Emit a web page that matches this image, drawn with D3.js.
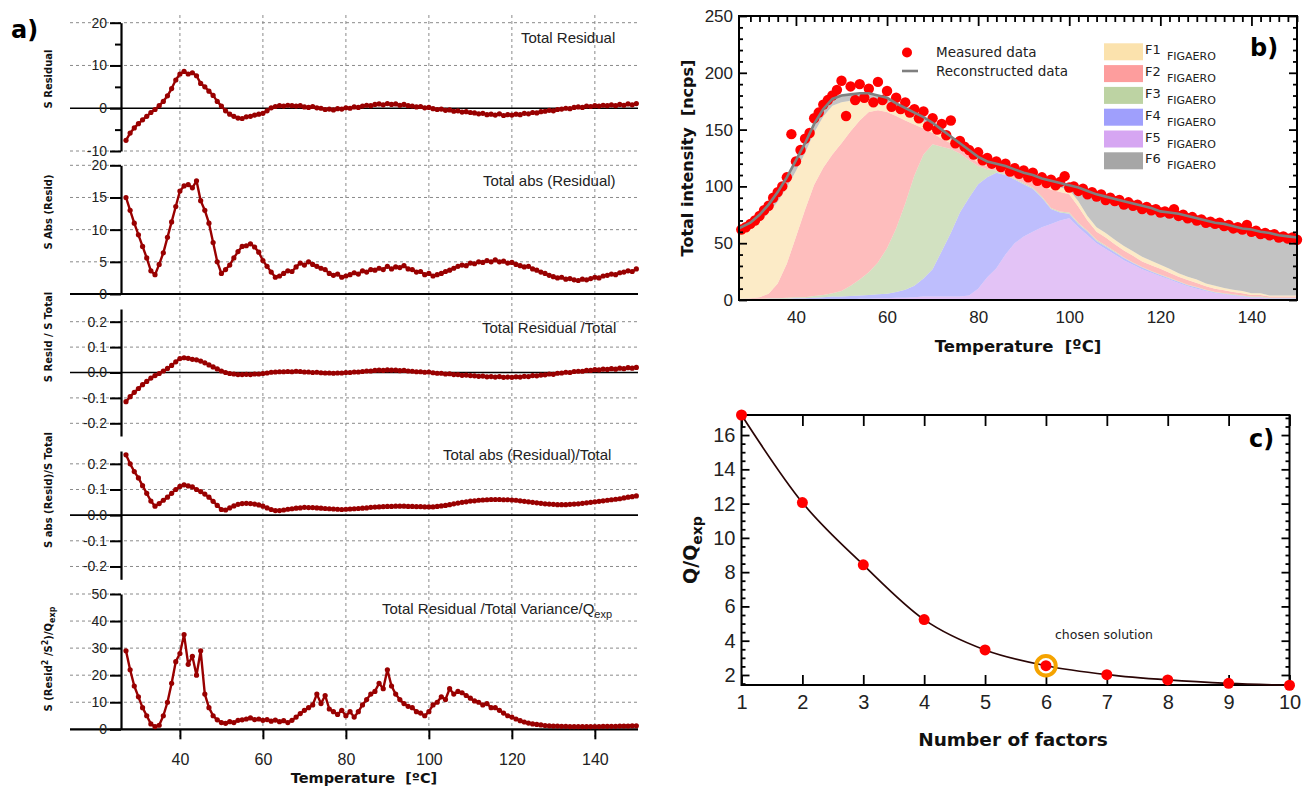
<!DOCTYPE html>
<html>
<head>
<meta charset="utf-8">
<script src="https://cdnjs.cloudflare.com/ajax/libs/d3/7.8.5/d3.min.js"></script>
<style>
  body { margin: 0; background: #fff; }
  svg { display: block; }
  text { white-space: pre; }
  .tick text { fill: #222; }
</style>
</head>
<body>
<svg id="chart" width="1303" height="789"></svg>
<script>
// ---------------- data ----------------
// temperature grid of the residual series and of the measured thermogram (degC)
var temps = [27,28,29,30,31,32,33,34,35,36, 37,38,39,40,41,42,43,44,45,46,
  47,48,49,50,51,52,53,54,55,56, 57,58,59,60,61,62,63,64,65,66,
  67,68,69,70,71,72,73,74,75,76, 77,78,79,80,81,82,83,84,85,86,
  87,88,89,90,91,92,93,94,95,96, 97,98,99,100,101,102,103,104,105,106,
  107,108,109,110,111,112,113,114,115,116, 117,118,119,120,121,122,123,124,125,126,
  127,128,129,130,131,132,133,134,135,136, 137,138,139,140,141,142,143,144,145,146,
  147,148,149,150];

var sResidual = [-7.5,-5.8,-4.6,-3.6,-2.7,-1.9,-1.0,-0.3,0.6,1.6, 2.9,4.6,6.6,8.0,8.6,8.0,8.3,7.6,5.8,5.0,
  4.0,3.0,1.6,0.5,-0.6,-1.4,-1.9,-2.3,-2.4,-2.0, -1.9,-1.6,-1.4,-1.2,-0.6,0.1,0.4,0.6,0.5,0.7,
  0.6,0.5,0.6,0.3,0.2,0.4,0.1,0.0,-0.3,-0.2, -0.4,-0.1,-0.2,0.1,0.0,0.3,0.2,0.5,0.7,0.6,
  0.9,1.0,0.8,1.1,0.9,1.0,0.7,0.9,0.6,0.5, 0.3,0.4,0.1,0.2,-0.1,-0.3,-0.2,-0.5,-0.4,-0.7,
  -0.6,-0.9,-0.8,-1.0,-1.1,-1.3,-1.2,-1.5,-1.4,-1.6, -1.3,-1.7,-1.5,-1.6,-1.4,-1.5,-1.2,-1.3,-1.0,-1.1,
  -0.8,-0.7,-0.5,-0.6,-0.3,-0.2,0.0,-0.1,0.2,0.3, 0.2,0.5,0.4,0.6,0.5,0.7,0.6,0.8,0.6,0.9,
  0.7,1.0,0.8,1.1];

var sAbsResid = [15,13,11,9.2,7.4,5.6,3.6,3.0,4.6,6.4, 8.8,11.2,13.6,16,16.8,17,16.5,17.6,14.5,13,
  11,8,5,3.2,3.8,4.5,5.6,6.6,7.4,7.5, 7.8,7.3,6.5,5.2,4.3,3.4,2.6,2.8,3.2,3.6,
  3.5,4.2,4.8,4.5,5.0,4.6,4.3,4.0,3.8,3.2, 2.9,3.1,2.6,2.8,3.0,3.3,3.1,3.6,3.4,3.8,
  3.7,4.0,3.8,4.3,3.9,4.2,4.1,4.4,3.9,3.8, 3.4,3.5,3.0,3.2,2.8,3.0,3.2,3.5,3.7,4.0,
  4.3,4.5,4.4,4.8,4.7,5.0,4.9,5.2,5.0,5.3, 5.0,5.1,4.8,4.9,4.6,4.4,4.2,4.3,3.9,3.7,
  3.4,3.2,2.9,2.7,2.5,2.6,2.3,2.4,2.2,2.1, 2.3,2.2,2.4,2.6,2.5,2.8,2.9,3.1,3.0,3.3,
  3.4,3.6,3.5,3.9];

var sResidTotal = [-0.115,-0.095,-0.078,-0.063,-0.048,-0.035,-0.022,-0.012,-0.004,0.006,
  0.016,0.028,0.042,0.055,0.058,0.056,0.052,0.05,0.045,0.038,
  0.03,0.022,0.014,0.006,0.0,-0.004,-0.006,-0.008,-0.008,-0.007,
  -0.008,-0.006,-0.006,-0.004,-0.002,0.001,0.002,0.003,0.003,0.004,
  0.003,0.005,0.004,0.002,0.002,0.0,0.001,-0.001,-0.002,-0.002,
  -0.003,-0.002,-0.002,0.0,0.0,0.002,0.002,0.004,0.006,0.006,
  0.008,0.009,0.008,0.01,0.009,0.009,0.007,0.008,0.006,0.005,
  0.003,0.003,0.001,0.002,-0.001,-0.003,-0.003,-0.006,-0.005,-0.008,
  -0.008,-0.011,-0.01,-0.012,-0.013,-0.015,-0.014,-0.017,-0.016,-0.018,
  -0.016,-0.019,-0.018,-0.019,-0.017,-0.018,-0.015,-0.016,-0.012,-0.013,
  -0.01,-0.009,-0.006,-0.007,-0.003,-0.002,0.001,0.0,0.004,0.005,
  0.005,0.008,0.008,0.011,0.01,0.013,0.012,0.015,0.013,0.017,
  0.015,0.019,0.017,0.02];

var sAbsTotal = [0.235,0.2,0.17,0.145,0.115,0.085,0.055,0.035,0.045,0.058,
  0.07,0.085,0.1,0.112,0.118,0.114,0.11,0.1,0.092,0.082,
  0.07,0.054,0.038,0.022,0.02,0.028,0.036,0.042,0.045,0.046,
  0.045,0.043,0.04,0.035,0.028,0.022,0.018,0.018,0.02,0.023,
  0.025,0.027,0.028,0.03,0.029,0.029,0.028,0.027,0.026,0.025,
  0.024,0.023,0.022,0.023,0.024,0.025,0.026,0.027,0.028,0.03,
  0.031,0.032,0.033,0.034,0.034,0.035,0.035,0.035,0.034,0.034,
  0.033,0.033,0.032,0.032,0.032,0.034,0.036,0.038,0.041,0.044,
  0.047,0.05,0.052,0.055,0.056,0.058,0.059,0.06,0.061,0.061,
  0.061,0.06,0.06,0.059,0.058,0.056,0.054,0.052,0.05,0.048,
  0.046,0.044,0.043,0.042,0.041,0.041,0.041,0.042,0.043,0.044,
  0.046,0.048,0.05,0.052,0.054,0.056,0.058,0.06,0.062,0.064,
  0.067,0.07,0.072,0.075];

var sVariance = [29,22,16,12,8,5,2,1,1.5,5, 10,17,25,28,35,24,27,20,29,13,
  8,5,3.5,2.5,2.2,2.8,2.5,3.3,3.5,3.8, 4.2,3.6,3.8,3.3,3.6,3.0,3.4,2.8,3.2,2.5,
  3.3,4.5,5.8,7,8,9,13,9.5,12.5,7.5, 6.5,5.5,7,5,6.5,4.5,6.5,9,11,13,
  14,17,15,22,16,13,11,9.5,8.5,8, 6.5,6,5,6.5,9,10,12,11,15,13,
  14,13.5,12.5,11.5,10.5,10,9,9.5,8,8, 7,6,5,4.5,3.8,3.2,2.7,2.3,2,1.8,
  1.6,1.4,1.3,1.2,1.2,1.1,1.1,1.0,1.0,1.0, 1.0,1.0,1.0,1.0,1.0,1.1,1.1,1.1,1.1,1.2,
  1.2,1.2,1.3,1.3];

// measured total signal (ncps), same temperature grid
var measured = [60,62,64,67,70,74,79,83,90,95, 100,108,146,122,132,142,147,160,165,172,
  176,180,185,193,162,188,176,190,178,186, 174,192,176,184,170,178,168,174,165,168,
  160,166,153,160,150,155,145,158,138,140, 135,132,128,130,123,125,120,122,117,120,
  113,116,111,114,108,112,105,108,103,106, 101,104,109,99,100,96,98,93,95,91,
  93,88,90,87,88,84,86,83,84,80, 82,79,80,77,78,76,80,74,75,72,
  73,70,71,68,69,67,68,65,66,63, 64,62,66,60,61,58,59,57,58,55,
  56,54,55,53];

// factor contributions (ncps)
var factorTemps = [27.5,30,32,34,36,38,40,42,44,46,48,50,52,54,56,58,60,62,64,66,68,70,72,74,76,78,80,
  82,84,86,88,90,92,94,96,98,100,102,104,106,108,110,112,114,116,118,120,122,124,126,128,130,
  132,134,136,138,140,142,144,146,148,150];
var f1 = [57,61,66,71,72,67,58,50,46,45,43,36,27,19,12,9,8,7,7,6,6,5,4,3,2,2,2,
  1,1,1,1,1,2,3,4,4,4,5,4,4,4,4,4,4,4,4,3.5,3.5,3,3,3,2.5,
  2.5,2,2,2,1.5,1.5,1,1,1,1];
var f2 = [0,0.5,1.5,4,13,30,53,77,98,112,122,130,136,140,141,134,120,99,73,45,23,10,7,5,4,4,3,
  3,2,3,4,4,6,10,16,17,16,14,9,7,7,6,6,6,5,5,5,4.5,4,4,3.5,3,
  3,2.5,2,2,1.5,1.5,1,1,1,1];
var f3 = [0.5,0.5,0.5,0.5,0.5,1,1,1,1.5,2,3,5,9,14,20,28,40,56,76,97,109,110,92,74,52,33,16,
  7,2,1,1,1,1,1,1,1,1,1,1,1,1,1,0.5,0.5,0.5,0.5,0.5,0.5,0.5,0.5,0.5,0.5,
  0.5,0.5,0.5,0.5,0.5,0.5,0.5,0.5,0.5,0.5];
var f4 = [0.5,0.5,0.5,1,1,1,1.5,1.5,2,2,2.5,2.5,3,3,3.5,3.5,4,5,7,10,16,24,40,56,74,86,92,
  88,84,70,56,46,38,26,13,7,4,3,3,2,2,2,2,1.5,1.5,1,1,1,1,1,1,0.5,
  0.5,0.5,0.5,0.5,0.5,0.5,0.5,0.5,0.5,0.5];
var f5 = [0,0,0,0,0,0,0,0,0,0.5,0.5,0.5,0.5,1,1,1.5,1.5,2,2,2.5,3,3,3,3,3,4,10,
  20,28,40,50,56,60,64,67,70,72,64,57,50,45,40,35,31,27,24,21,18,15,12,10,8,
  6,5,4,3,2,2,1,1,1,1];
var f6 = [5,5.5,6.5,7.5,8.5,9,9.5,8.5,7.5,6.5,6,6,5.5,5,4.5,4,4.5,4,4,4.5,4,4,4,3,3,3,3,
  3,3,3,3,4,3,3,4,4,4,12,22,29,32,36,39.5,42,45,46.5,47,49.5,52.5,53.5,54,55.5,
  55.5,56.5,56,55,56,54,55,53,52,51];
var factorNames = ["F1", "F2", "F3", "F4", "F5", "F6"];
var factorColors = ["#fbe2ad", "#fd9d9d", "#bdd3a3", "#9f9ffc", "#d6a6f2", "#a6a6a6"];

// Q/Qexp against number of factors
var nFactors = [1, 2, 3, 4, 5, 6, 7, 8, 9, 10];
var qRatio = [17.17, 12.06, 8.43, 5.23, 3.46, 2.54, 2.02, 1.71, 1.51, 1.40];
var chosenFactors = 6;

var tempTicks = [40, 60, 80, 100, 120, 140];

// ---------------- drawing ----------------
var svg = d3.select("#chart");
var tickFont = "Liberation Sans, Arial, sans-serif";
var labelFont = "DejaVu Sans, Verdana, sans-serif";
var darkRed = "#990000";

function fmtInt(d) { return d.toFixed(0); }
function fmt1(d) { return d.toFixed(1); }

// ===== panel a =====
var xA = d3.scaleLinear().domain([25.8, 150.4]).range([121, 638]);
var gridL = 70, gridR = 638;

var panelsA = [
  {values: sResidual, domain: [-10, 20], range: [151, 22.7], ticks: [-10, 0, 10, 20], minor: [-5, 5, 15],
   fmt: fmtInt, labelY: 79, note: "Total Residual", noteX: 521, noteY: 43},
  {values: sAbsResid, domain: [0, 20], range: [294, 165.3], ticks: [0, 5, 10, 15, 20], minor: [],
   fmt: fmtInt, labelY: 212, note: "Total abs (Residual)", noteX: 483, noteY: 186},
  {values: sResidTotal, domain: [-0.25, 0.25], range: [436, 309], ticks: [-0.2, -0.1, 0, 0.1, 0.2], minor: [],
   fmt: fmt1, labelY: 337, note: "Total Residual /Total", noteX: 482, noteY: 333},
  {values: sAbsTotal, domain: [-0.25, 0.25], range: [579.3, 451], ticks: [-0.2, -0.1, 0, 0.1, 0.2], minor: [],
   fmt: fmt1, labelY: 490, note: "Total abs (Residual)/Total", noteX: 443, noteY: 460},
  {values: sVariance, domain: [0, 50], range: [729.3, 594], ticks: [0, 10, 20, 30, 40, 50], minor: [],
   fmt: fmtInt, labelY: 659, note: "Total Residual /Total Variance/Q", noteX: 382, noteY: 614, noteSub: "exp"}
];
var labelsA = [["S Residual"], ["S Abs (Resid)"], ["S Resid / S Total"], ["S abs (Resid)/S Total"], null];

var gA = svg.append("g").attr("class", "panel-a");

// vertical dashed grid across all five panels
gA.append("g").selectAll("line")
  .data(tempTicks)
  .enter().append("line")
  .attr("x1", function(d) { return xA(d); })
  .attr("x2", function(d) { return xA(d); })
  .attr("y1", 15).attr("y2", 737)
  .attr("stroke", "#8a8a8a").attr("stroke-dasharray", "3,3");

panelsA.forEach(function(p, i) {
  var y = d3.scaleLinear().domain(p.domain).range(p.range);
  var g = gA.append("g");

  g.append("g").selectAll("line")
    .data(p.ticks.filter(function(d) { return d !== 0; }))
    .enter().append("line")
    .attr("x1", gridL).attr("x2", gridR)
    .attr("y1", function(d) { return y(d); })
    .attr("y2", function(d) { return y(d); })
    .attr("stroke", "#8a8a8a").attr("stroke-dasharray", "3,3");

  g.append("line")
    .attr("x1", gridL).attr("x2", gridR)
    .attr("y1", y(0)).attr("y2", y(0))
    .attr("stroke", "#000")
    .attr("stroke-width", (p.domain[0] === 0) ? 2.2 : 1.6);

  var ax = g.append("g")
    .attr("transform", "translate(121,0)")
    .call(d3.axisLeft(y).tickValues(p.ticks).tickFormat(p.fmt).tickSize(11).tickSizeOuter(0).tickPadding(3));
  ax.select(".domain").attr("stroke-width", 2.2);
  ax.selectAll(".tick line").attr("stroke-width", 2);
  ax.selectAll("text").style("font-family", tickFont).style("font-size", "14px");

  if (p.minor.length) {
    g.append("g")
      .attr("transform", "translate(121,0)")
      .call(d3.axisLeft(y).tickValues(p.minor).tickFormat("").tickSize(6).tickSizeOuter(0))
      .call(function(s) { s.select(".domain").remove(); s.selectAll("line").attr("stroke-width", 2); });
  }

  var pts = temps.map(function(t, k) { return [t, p.values[k]]; });
  g.append("path")
    .datum(pts)
    .attr("fill", "none")
    .attr("stroke", darkRed)
    .attr("stroke-width", 2.4)
    .attr("stroke-linejoin", "round")
    .attr("d", d3.line().x(function(d) { return xA(d[0]); }).y(function(d) { return y(d[1]); }));
  g.append("g").selectAll("circle")
    .data(pts)
    .enter().append("circle")
    .attr("cx", function(d) { return xA(d[0]); })
    .attr("cy", function(d) { return y(d[1]); })
    .attr("r", 2.6)
    .attr("fill", darkRed);

  var note = g.append("text")
    .attr("x", p.noteX).attr("y", p.noteY)
    .style("font-family", tickFont).style("font-size", "15px").attr("fill", "#222")
    .text(p.note);
  if (p.noteSub) {
    note.append("tspan").attr("dy", 4).style("font-size", "11px").text(p.noteSub);
  }

  var lab = g.append("text")
    .attr("transform", "translate(52," + p.labelY + ") rotate(-90)")
    .attr("text-anchor", "middle")
    .style("font-family", labelFont).style("font-weight", "bold").style("font-size", "10px")
    .attr("fill", "#111");
  if (labelsA[i]) {
    lab.text(labelsA[i][0]);
  } else {
    lab.append("tspan").text("S (Resid");
    lab.append("tspan").attr("dy", -4).style("font-size", "8px").text("2");
    lab.append("tspan").attr("dy", 4).text(" /S");
    lab.append("tspan").attr("dy", -4).style("font-size", "8px").text("2");
    lab.append("tspan").attr("dy", 4).text(")/Q");
    lab.append("tspan").attr("dy", 3).style("font-size", "8px").text("exp");
  }

  if (i === panelsA.length - 1) {
    var bx = g.append("g")
      .attr("transform", "translate(0," + p.range[0] + ")")
      .call(d3.axisBottom(xA).tickValues(tempTicks).tickSize(10).tickPadding(14).tickSizeOuter(0));
    bx.select(".domain").remove();
    bx.selectAll(".tick line").attr("stroke-width", 2);
    bx.selectAll("text").style("font-family", tickFont).style("font-size", "16px");
  }
});

gA.append("text")
  .attr("x", 364).attr("y", 783)
  .attr("text-anchor", "middle")
  .style("font-family", labelFont).style("font-weight", "bold").style("font-size", "14.5px")
  .attr("fill", "#111")
  .text("Temperature  [\u00baC]");

svg.append("text")
  .attr("x", 11).attr("y", 38)
  .style("font-family", labelFont).style("font-weight", "bold").style("font-size", "24px")
  .text("a)");

// ===== panel b =====
var xB = d3.scaleLinear().domain([27.5, 150]).range([739, 1297]);
var yB = d3.scaleLinear().domain([0, 250]).range([300, 16]);
var gB = svg.append("g").attr("class", "panel-b");

var rowsB = factorTemps.map(function(t, i) {
  return {t: t, F1: f1[i], F2: f2[i], F3: f3[i], F4: f4[i], F5: f5[i], F6: f6[i]};
});
// stacking order bottom -> top as in the figure
var stackKeys = ["F5", "F4", "F3", "F2", "F1", "F6"];
var series = d3.stack().keys(stackKeys)(rowsB);
var colorOf = d3.scaleOrdinal().domain(factorNames).range(factorColors);

gB.append("g").selectAll("path")
  .data(series)
  .enter().append("path")
  .attr("fill", function(d) { return colorOf(d.key); })
  .attr("fill-opacity", 0.68)
  .attr("d", d3.area()
    .x(function(d) { return xB(d.data.t); })
    .y0(function(d) { return yB(d[0]); })
    .y1(function(d) { return yB(d[1]); }));

gB.append("g").selectAll("circle")
  .data(temps.map(function(t, i) { return [t, measured[i]]; }).filter(function(d) { return d[0] >= 27.5; }))
  .enter().append("circle")
  .attr("cx", function(d) { return xB(d[0]); })
  .attr("cy", function(d) { return yB(d[1]); })
  .attr("r", 5.2)
  .attr("fill", "#ff0000");

var topLayer = series[series.length - 1];
gB.append("path")
  .datum(topLayer)
  .attr("fill", "none")
  .attr("stroke", "#7f7f7f")
  .attr("stroke-width", 2.6)
  .attr("d", d3.line().x(function(d) { return xB(d.data.t); }).y(function(d) { return yB(d[1]); }));

// frame and inward ticks
gB.append("rect")
  .attr("x", 739).attr("y", 16).attr("width", 558).attr("height", 284)
  .attr("fill", "none").attr("stroke", "#000").attr("stroke-width", 2);

function styleAxis(sel, fontSize) {
  sel.select(".domain").remove();
  sel.selectAll(".tick line").attr("stroke", "#000").attr("stroke-width", 1.8);
  sel.selectAll("text").style("font-family", tickFont).style("font-size", fontSize);
}

var yBmajor = [0, 50, 100, 150, 200, 250];
var yBminor = d3.range(0, 251, 10).filter(function(d) { return d % 50 !== 0; });
var xBminor = d3.range(30, 151, 2).filter(function(d) { return d % 20 !== 0; });

gB.append("g").attr("transform", "translate(739,0)")
  .call(d3.axisLeft(yB).tickValues(yBmajor).tickSize(-8).tickPadding(6).tickSizeOuter(0))
  .call(styleAxis, "17px");
gB.append("g").attr("transform", "translate(739,0)")
  .call(d3.axisLeft(yB).tickValues(yBminor).tickSize(-4).tickFormat("").tickSizeOuter(0))
  .call(styleAxis, "17px");
gB.append("g").attr("transform", "translate(1297,0)")
  .call(d3.axisRight(yB).tickValues(yBmajor).tickSize(-8).tickFormat("").tickSizeOuter(0))
  .call(styleAxis, "17px");
gB.append("g").attr("transform", "translate(1297,0)")
  .call(d3.axisRight(yB).tickValues(yBminor).tickSize(-4).tickFormat("").tickSizeOuter(0))
  .call(styleAxis, "17px");
gB.append("g").attr("transform", "translate(0,16)")
  .call(d3.axisTop(xB).tickValues(tempTicks).tickSize(-10).tickFormat("").tickSizeOuter(0))
  .call(styleAxis, "17px");
gB.append("g").attr("transform", "translate(0,16)")
  .call(d3.axisTop(xB).tickValues(xBminor).tickSize(-6).tickFormat("").tickSizeOuter(0))
  .call(styleAxis, "17px");
gB.append("g").attr("transform", "translate(0,300)")
  .call(d3.axisBottom(xB).tickValues(tempTicks).tickSize(0).tickPadding(11).tickSizeOuter(0))
  .call(styleAxis, "17px");

gB.append("text")
  .attr("transform", "translate(693,158) rotate(-90)")
  .attr("text-anchor", "middle")
  .style("font-family", labelFont).style("font-weight", "bold").style("font-size", "16px")
  .attr("fill", "#111")
  .text("Total intensity  [ncps]");
gB.append("text")
  .attr("x", 1018).attr("y", 352)
  .attr("text-anchor", "middle")
  .style("font-family", labelFont).style("font-weight", "bold").style("font-size", "16.5px")
  .attr("fill", "#111")
  .text("Temperature  [\u00baC]");
gB.append("text")
  .attr("x", 1250).attr("y", 56)
  .style("font-family", labelFont).style("font-weight", "bold").style("font-size", "24px")
  .text("b)");

// legend
gB.append("circle").attr("cx", 907).attr("cy", 52.5).attr("r", 5).attr("fill", "#ff0000");
gB.append("line").attr("x1", 902).attr("x2", 918).attr("y1", 71).attr("y2", 71)
  .attr("stroke", "#7f7f7f").attr("stroke-width", 2.6);
gB.append("text").attr("x", 936).attr("y", 57)
  .style("font-family", labelFont).style("font-size", "13.5px").attr("fill", "#222")
  .text("Measured data");
gB.append("text").attr("x", 936).attr("y", 76)
  .style("font-family", labelFont).style("font-size", "13.5px").attr("fill", "#222")
  .text("Reconstructed data");

var legRows = gB.append("g").selectAll("g")
  .data(factorNames)
  .enter().append("g")
  .attr("transform", function(d, i) { return "translate(1104," + (43.3 + i * 21.8) + ")"; });
legRows.append("rect")
  .attr("width", 39).attr("height", 17)
  .attr("fill", function(d) { return colorOf(d); });
legRows.append("text")
  .attr("x", 41).attr("y", 11)
  .style("font-family", labelFont).style("font-size", "13px").attr("fill", "#222")
  .text(function(d) { return d; });
legRows.append("text")
  .attr("x", 63).attr("y", 17)
  .style("font-family", labelFont).style("font-size", "11px").attr("fill", "#222")
  .text("FIGAERO");

// ===== panel c =====
var xC = d3.scaleLinear().domain([1, 10]).range([741.5, 1289.5]);
var yC = d3.scaleLinear().domain([1.415, 17.17]).range([685, 415]);
var gC = svg.append("g").attr("class", "panel-c");

gC.append("rect")
  .attr("x", 741.5).attr("y", 415).attr("width", 548).attr("height", 270)
  .attr("fill", "none").attr("stroke", "#000").attr("stroke-width", 2);

var yCmajor = [2, 4, 6, 8, 10, 12, 14, 16];
var yCminor = d3.range(1.5, 17.01, 0.5).filter(function(d) { return d % 2 !== 0; });

gC.append("g").attr("transform", "translate(741.5,0)")
  .call(d3.axisLeft(yC).tickValues(yCmajor).tickSize(-8).tickPadding(6).tickSizeOuter(0))
  .call(styleAxis, "20px");
gC.append("g").attr("transform", "translate(741.5,0)")
  .call(d3.axisLeft(yC).tickValues(yCminor).tickSize(-4).tickFormat("").tickSizeOuter(0))
  .call(styleAxis, "20px");
gC.append("g").attr("transform", "translate(1289.5,0)")
  .call(d3.axisRight(yC).tickValues(yCmajor).tickSize(-8).tickFormat("").tickSizeOuter(0))
  .call(styleAxis, "20px");
gC.append("g").attr("transform", "translate(1289.5,0)")
  .call(d3.axisRight(yC).tickValues(yCminor).tickSize(-4).tickFormat("").tickSizeOuter(0))
  .call(styleAxis, "20px");
gC.append("g").attr("transform", "translate(0,415)")
  .call(d3.axisTop(xC).tickValues(nFactors).tickSize(-11).tickFormat("").tickSizeOuter(0))
  .call(styleAxis, "20px");
gC.append("g").attr("transform", "translate(0,685)")
  .call(d3.axisBottom(xC).tickValues(nFactors).tickSize(-10).tickPadding(10).tickFormat(d3.format("d")).tickSizeOuter(0))
  .call(styleAxis, "20px");

gC.append("path")
  .datum(nFactors.map(function(n, i) { return [n, qRatio[i]]; }))
  .attr("fill", "none")
  .attr("stroke", "#2a0505")
  .attr("stroke-width", 1.7)
  .attr("d", d3.line().curve(d3.curveMonotoneX)
    .x(function(d) { return xC(d[0]); })
    .y(function(d) { return yC(d[1]); }));

gC.append("g").selectAll("circle")
  .data(nFactors.map(function(n, i) { return [n, qRatio[i]]; }))
  .enter().append("circle")
  .attr("cx", function(d) { return xC(d[0]); })
  .attr("cy", function(d) { return yC(d[1]); })
  .attr("r", 5.5)
  .attr("fill", "#ff0000");

gC.append("circle")
  .attr("cx", xC(chosenFactors))
  .attr("cy", yC(qRatio[nFactors.indexOf(chosenFactors)]))
  .attr("r", 9.8)
  .attr("fill", "none")
  .attr("stroke", "#f5a300")
  .attr("stroke-width", 4);

gC.append("text")
  .attr("x", 1055).attr("y", 639)
  .style("font-family", labelFont).style("font-size", "12.5px").attr("fill", "#222")
  .text("chosen solution");

var qLab = gC.append("text")
  .attr("transform", "translate(697,550) rotate(-90)")
  .attr("text-anchor", "middle")
  .style("font-family", labelFont).style("font-weight", "bold").style("font-size", "19px")
  .attr("fill", "#111");
qLab.append("tspan").text("Q/Q");
qLab.append("tspan").attr("dy", 5).style("font-size", "14px").text("exp");

gC.append("text")
  .attr("x", 1013).attr("y", 746)
  .attr("text-anchor", "middle")
  .style("font-family", labelFont).style("font-weight", "bold").style("font-size", "18.5px")
  .attr("fill", "#111")
  .text("Number of factors");
gC.append("text")
  .attr("x", 1249).attr("y", 447)
  .style("font-family", labelFont).style("font-weight", "bold").style("font-size", "24px")
  .text("c)");
</script>
</body>
</html>
